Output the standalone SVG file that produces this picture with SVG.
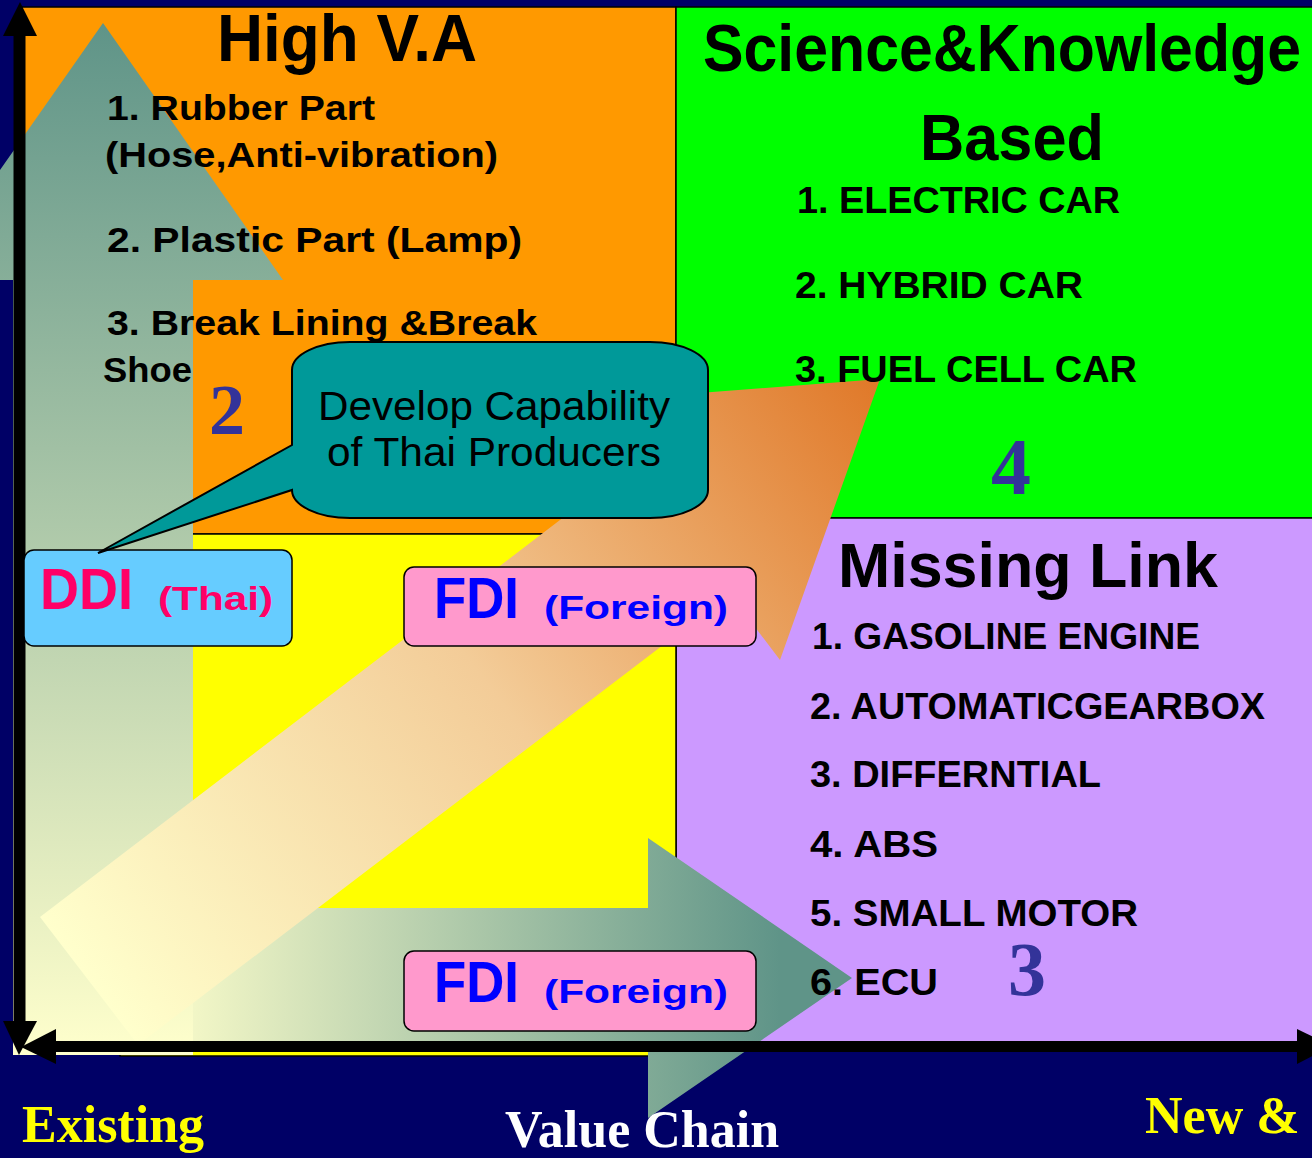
<svg xmlns="http://www.w3.org/2000/svg" width="1312" height="1158" viewBox="0 0 1312 1158">
<style>
.q{stroke:#000;stroke-width:1.5}
.t{font-family:"Liberation Sans",Arial,"Noto Sans CJK SC",sans-serif;font-weight:bold;fill:#000}
.h{font-size:66px}
.li{font-size:35px}
.num{font-family:"Liberation Serif","Times New Roman",serif;font-weight:bold;fill:#333399;text-anchor:middle}
.ax{font-family:"Liberation Serif","Times New Roman",serif;font-weight:bold;font-size:52px}
.box{stroke:#000;stroke-width:1.5}
.big{font-size:57px}
.sm{font-size:34px}
.co{font-family:"Liberation Sans",Arial,sans-serif;font-size:40px;fill:#000}
</style>
<defs>
<linearGradient id="vG" gradientUnits="userSpaceOnUse" x1="0" y1="23" x2="0" y2="1055">
<stop offset="0" stop-color="#5F9488"/><stop offset="1" stop-color="#FFFFCC"/>
</linearGradient>
<linearGradient id="hG" gradientUnits="userSpaceOnUse" x1="140" y1="0" x2="780" y2="0">
<stop offset="0" stop-color="#FFFFCC"/><stop offset="1" stop-color="#5F9488"/>
</linearGradient>
<linearGradient id="dG" gradientUnits="userSpaceOnUse" x1="89" y1="981" x2="880" y2="379">
<stop offset="0" stop-color="#FFFFCC"/><stop offset="0.5" stop-color="#F3CC98"/><stop offset="1" stop-color="#E07828"/>
</linearGradient>
</defs>
<rect width="1312" height="1158" fill="#000066"/>
<g id="quadrants">
<rect id="q-orange" class="q" x="22" y="7" width="654" height="527" fill="#FF9900"/>
<rect id="q-green" class="q" x="676" y="7" width="660" height="511" fill="#00FF00"/>
<rect id="q-purple" class="q" x="676" y="518" width="660" height="528" fill="#CC99FF"/>
<rect id="q-yellow" class="q" x="120" y="534" width="556" height="522" fill="#FFFF00"/>
</g>
<g id="arrow-horizontal"><polygon points="852,978 648,1118 648,1048 22,1048 22,908 648,908 648,838" fill="url(#hG)"/></g>
<g id="arrow-vertical"><polygon points="103,23 283,280 193,280 193,1055 13,1055 13,280 -77,280" fill="url(#vG)"/></g>
<g id="arrow-diagonal"><polygon points="40,917 632,465 583,402 880,379 780,660 730,594 138,1045" fill="url(#dG)"/></g>
<g id="connectors">
<line x1="19.5" y1="34" x2="19.5" y2="1023" stroke="#000" stroke-width="12"/>
<polygon points="20,2 3,36 37,36" fill="#000"/>
<polygon points="3,1021 37,1021 19,1055" fill="#000"/>
<line x1="54" y1="1046.5" x2="1299" y2="1046.5" stroke="#000" stroke-width="11"/>
<polygon points="21,1047 56,1029 56,1064" fill="#000"/>
<polygon points="1297,1029 1297,1064 1332,1046" fill="#000"/>
</g>
<g id="node-highva">
<text class="t h" x="217" y="61" textLength="260" lengthAdjust="spacingAndGlyphs">High V.A</text>
<text class="t li" x="107" y="120" textLength="268" lengthAdjust="spacingAndGlyphs">1. Rubber Part</text>
<text class="t li" x="105" y="167" textLength="393" lengthAdjust="spacingAndGlyphs">(Hose,Anti-vibration)</text>
<text class="t li" x="107" y="252" textLength="415" lengthAdjust="spacingAndGlyphs">2. Plastic Part (Lamp)</text>
<text class="t li" x="107" y="335" textLength="430" lengthAdjust="spacingAndGlyphs">3. Break Lining &amp;Break</text>
<text class="t li" x="103" y="382" textLength="89" lengthAdjust="spacingAndGlyphs">Shoe</text>
<text class="num" x="227" y="434" font-size="72">2</text>
</g>
<g id="node-science">
<text class="t" transform="translate(703,71) scale(1,1.12)" x="0" y="0" font-size="59" textLength="598" lengthAdjust="spacingAndGlyphs">Science&amp;Knowledge</text>
<text class="t" x="920" y="160" font-size="64" textLength="184" lengthAdjust="spacingAndGlyphs">Based</text>
<text class="t" x="797" y="213" font-size="37" textLength="323" lengthAdjust="spacingAndGlyphs">1. ELECTRIC CAR</text>
<text class="t" x="795" y="298" font-size="37" textLength="288" lengthAdjust="spacingAndGlyphs">2. HYBRID CAR</text>
<text class="t" x="795" y="382" font-size="37" textLength="342" lengthAdjust="spacingAndGlyphs">3. FUEL CELL CAR</text>
<text class="num" x="1011" y="494" font-size="80">4</text>
</g>
<g id="node-missing">
<text class="t" x="838" y="587" font-size="63" textLength="380" lengthAdjust="spacingAndGlyphs">Missing Link</text>
<text class="t" x="812" y="649" font-size="36" textLength="388" lengthAdjust="spacingAndGlyphs">1. GASOLINE ENGINE</text>
<text class="t" x="810" y="719" font-size="36" textLength="455" lengthAdjust="spacingAndGlyphs">2. AUTOMATICGEARBOX</text>
<text class="t" x="810" y="787" font-size="36" textLength="291" lengthAdjust="spacingAndGlyphs">3. DIFFERNTIAL</text>
<text class="t" x="810" y="857" font-size="36" textLength="128" lengthAdjust="spacingAndGlyphs">4. ABS</text>
<text class="t" x="810" y="926" font-size="36" textLength="328" lengthAdjust="spacingAndGlyphs">5. SMALL MOTOR</text>
<text class="t" x="810" y="995" font-size="36" textLength="128" lengthAdjust="spacingAndGlyphs">6. ECU</text>
<text class="num" x="1027" y="995" font-size="76">3</text>
</g>
<g id="node-ddi">
<rect class="box" x="24" y="550" width="268" height="96" rx="10" fill="#66CCFF"/>
<text class="t big" x="40" y="609" style="fill:#FF0066" textLength="93" lengthAdjust="spacingAndGlyphs">DDI</text>
<text class="t sm" x="158" y="610" style="fill:#FF0066" textLength="115" lengthAdjust="spacingAndGlyphs">(Thai)</text>
</g>
<g id="node-fdi-top">
<rect class="box" x="404" y="567" width="352" height="79" rx="10" fill="#FF99CC"/>
<text class="t big" x="434" y="618" style="fill:#0000FF" textLength="85" lengthAdjust="spacingAndGlyphs">FDI</text>
<text class="t sm" x="544" y="619" style="fill:#0000FF" textLength="184" lengthAdjust="spacingAndGlyphs">(Foreign)</text>
</g>
<g id="node-fdi-bottom">
<rect class="box" x="404" y="951" width="352" height="80" rx="10" fill="#FF99CC"/>
<text class="t big" x="434" y="1002" style="fill:#0000FF" textLength="85" lengthAdjust="spacingAndGlyphs">FDI</text>
<text class="t sm" x="544" y="1003" style="fill:#0000FF" textLength="184" lengthAdjust="spacingAndGlyphs">(Foreign)</text>
</g>
<g id="node-callout">
<path d="M350,342 H650 A58,28 0 0 1 708,370 V490 A58,28 0 0 1 650,518 H350 A58,28 0 0 1 292,490 L98,553 L292,445 V370 A58,28 0 0 1 350,342 Z" fill="#009999" stroke="#000" stroke-width="2"/>
<text class="co" x="318" y="420" textLength="352" lengthAdjust="spacingAndGlyphs">Develop Capability</text>
<text class="co" x="327" y="466" textLength="334" lengthAdjust="spacingAndGlyphs">of Thai Producers</text>
</g>
<g id="axis-labels">
<text class="ax" x="22" y="1142" fill="#FFFF00">Existing</text>
<text class="ax" x="505" y="1147" fill="#FFFFFF">Value Chain</text>
<text class="ax" x="1145" y="1133" fill="#FFFF00">New &amp;</text>
</g>
</svg>
